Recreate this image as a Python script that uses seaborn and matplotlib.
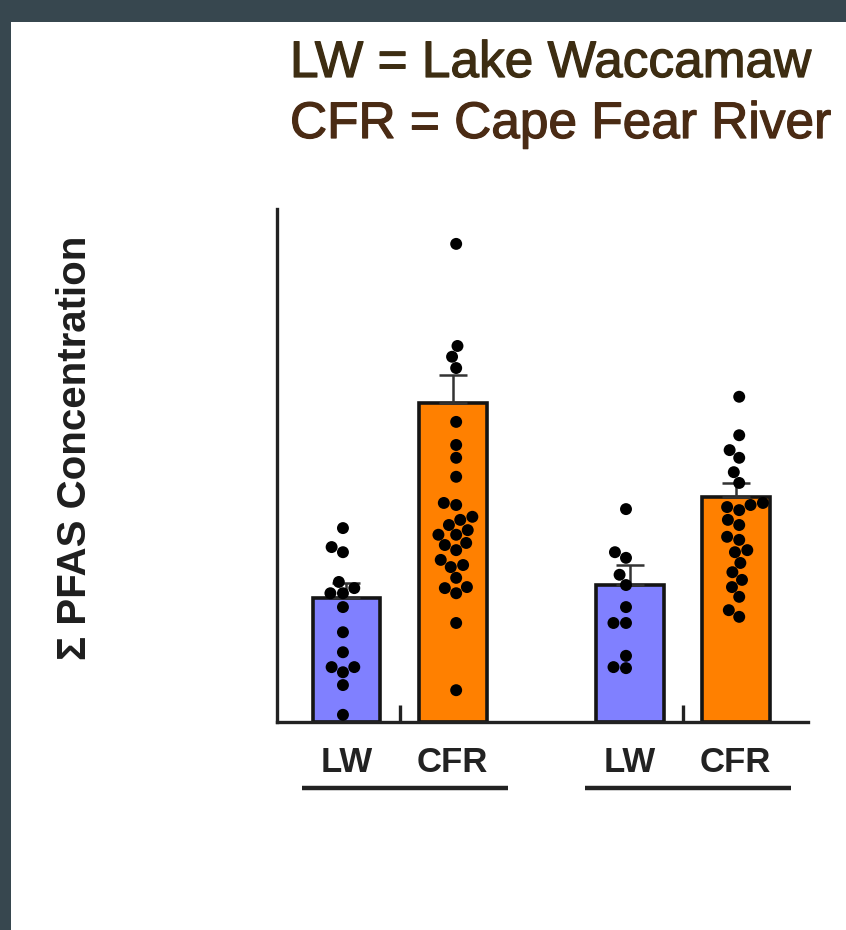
import numpy as np
import pandas as pd
import matplotlib
matplotlib.use("Agg")
import matplotlib.pyplot as plt
import matplotlib.transforms as mtransforms
import matplotlib.patheffects as pe
from matplotlib.patches import Rectangle
import seaborn as sns

# ---- data -------------------------------------------------------------
groups = ["I", "II"]
sites = ["LW", "CFR"]

# bar height (mean) and standard error, per group: LW then CFR
bar_mean = [24.2, 62.2, 26.7, 43.9]
bar_sem = [2.9, 5.4, 3.9, 2.7]

# individual measurements
lw_1 = [37.8, 34.1, 33.1, 27.3, 25.1, 25.1, 26.1, 22.4, 17.5, 13.6, 9.7,
        10.7, 10.7, 7.2, 1.4]
cfr_1 = [93.2, 73.3, 71.2, 69.0, 58.5, 54.0, 51.5, 47.8, 42.7, 42.3, 40.0,
         39.4, 38.4, 37.4, 36.5, 36.5, 34.9, 34.5, 33.5, 31.6, 30.6, 30.2,
         28.1, 26.3, 26.1, 25.1, 19.3, 6.2]
lw_2 = [41.5, 33.1, 32.0, 28.7, 26.7, 22.4, 19.3, 19.3, 12.9, 10.5, 10.7]
cfr_2 = [63.4, 55.9, 53.0, 51.5, 48.7, 46.6, 42.7, 42.3, 41.9, 41.3, 39.4,
         38.4, 36.1, 35.5, 33.5, 33.1, 31.0, 29.2, 27.7, 26.3, 24.4, 21.8,
         20.5]

title_lines = ["LW = Lake Waccamaw", "CFR = Cape Fear River"]
y_label = "Σ PFAS Concentration"

# ---- tables -----------------------------------------------------------
bar_df = pd.DataFrame({
    "group": np.repeat(groups, len(sites)),
    "site": sites * len(groups),
    "mean": bar_mean,
    "sem": bar_sem,
})

point_sets = {("I", "LW"): lw_1, ("I", "CFR"): cfr_1,
              ("II", "LW"): lw_2, ("II", "CFR"): cfr_2}
pts = pd.DataFrame(
    [(g, s, v) for (g, s), vals in point_sets.items() for v in vals],
    columns=["group", "site", "value"],
)

# ---- style ------------------------------------------------------------
sns.set_style("white")
plt.rcParams["font.family"] = ["Liberation Sans", "DejaVu Sans"]

fig = plt.figure(figsize=(8.46, 9.30), dpi=100, facecolor="#37474f")
fig.patches.append(Rectangle((11 / 846, 0), 1, (930 - 22) / 930,
                             transform=fig.transFigure, facecolor="white",
                             edgecolor="none", zorder=-10))

ax = fig.add_axes([277 / 846, 208 / 930, 531 / 846, 513 / 930])

fill = {"LW": "#8080ff", "CFR": "#ff8000"}
sns.barplot(data=bar_df, x="group", y="mean", hue="site", order=groups,
            hue_order=sites, palette=fill, saturation=1, width=0.75,
            gap=0.36, errorbar=None, edgecolor="#141414", linewidth=2.6,
            legend=False, ax=ax, zorder=1)

# upper standard-error whiskers
xs, tops, sems, bar_sites = [], [], [], []
for p in ax.patches:
    h = p.get_height()
    row = bar_df.iloc[(bar_df["mean"] - h).abs().argmin()]
    xs.append(p.get_x() + p.get_width() / 2)
    tops.append(h)
    sems.append(row["sem"])
    bar_sites.append(row["site"])
ax.errorbar(xs, tops, yerr=[np.zeros(len(sems)), sems], fmt="none",
            ecolor="#333333", elinewidth=1.8, capsize=10, capthick=1.8,
            zorder=2)

sns.swarmplot(data=pts, x="group", y="value", hue="site", order=groups,
              hue_order=sites, dodge=True,
              palette={"LW": "black", "CFR": "black"}, size=8.6,
              linewidth=0, legend=False, ax=ax, zorder=3)

ax.set_xlim(-0.433, 1.443)
ax.set_ylim(0, 100)
ax.set_xlabel("")
ax.set_ylabel("")
ax.set_yticks([])
ax.set_xticks(range(len(groups)))
ax.set_xticklabels([])
ax.tick_params(axis="x", direction="in", length=12, width=2.4,
               color="#222222", bottom=True)
for side in ("top", "right"):
    ax.spines[side].set_visible(False)
for side in ("left", "bottom"):
    ax.spines[side].set_linewidth(2.4)
    ax.spines[side].set_color("#222222")

# site names under each bar, with a rule under each group
trans = mtransforms.blended_transform_factory(ax.transData, ax.transAxes)
for x, s in zip(xs, bar_sites):
    ax.text(x, -0.0975, s, transform=trans, ha="center", va="baseline",
            fontsize=25, fontweight="bold", color="#222222")
for g in range(len(groups)):
    ax.plot([g - 0.345, g + 0.382], [-0.1287, -0.1287], transform=trans,
            clip_on=False, color="#222222", lw=3.2, solid_capstyle="butt")

fig.text(75 / 846, 1 - 447.5 / 930, y_label, rotation=90, ha="center",
         va="center", fontsize=29, fontweight="bold", color="#1e1e1e")

# heading, drawn with a slightly heavier stroke
for line, base, col in zip(title_lines, (77, 138), ("#3d2d12", "#4a2b14")):
    fig.text(290 / 846, 1 - base / 930, line, ha="left", va="baseline",
             fontsize=37, color=col,
             path_effects=[pe.withStroke(linewidth=0.9, foreground=col)])

fig.savefig("out.png", dpi=100, facecolor=fig.get_facecolor())
